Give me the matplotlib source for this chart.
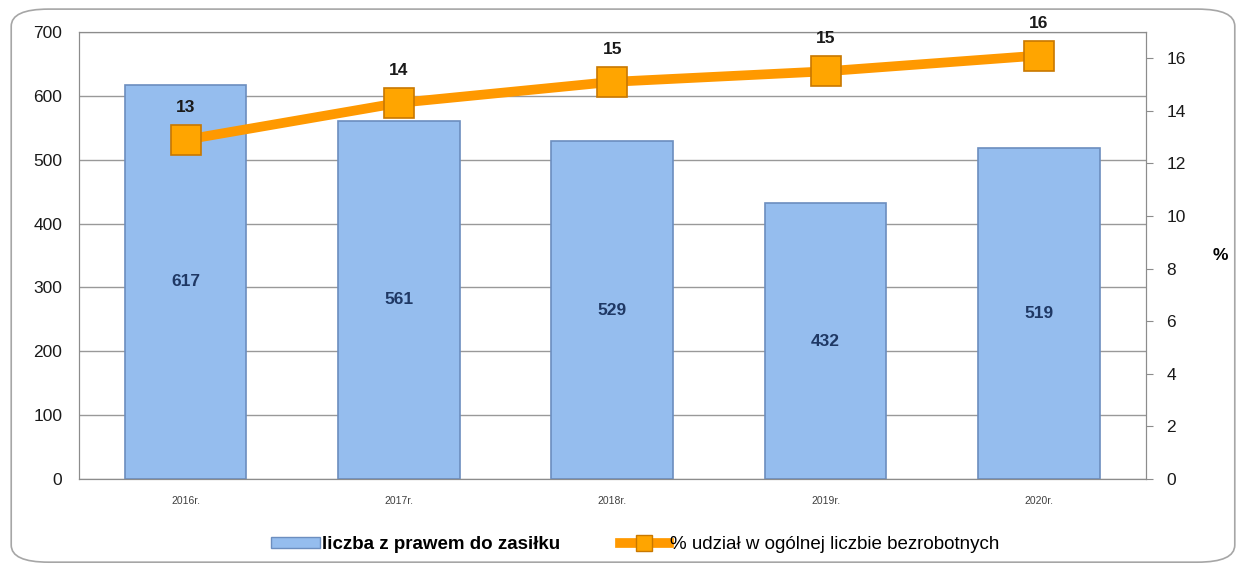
import matplotlib.pyplot as plt
from matplotlib.patches import FancyBboxPatch
from matplotlib.lines import Line2D
from matplotlib.patches import Patch

years = ['2016r.', '2017r.', '2018r.', '2019r.', '2020r.']
liczba = [617, 561, 529, 432, 519]
udzial = [12.9, 14.3, 15.1, 15.5, 16.1]
udzial_labels = ['13', '14', '15', '15', '16']

plt.rcParams['font.family'] = ['Liberation Sans', 'DejaVu Sans']

fig = plt.figure(figsize=(12.46, 5.69), dpi=100)
fig.patches.append(FancyBboxPatch((0.009, 0.012), 0.982, 0.972,
                                  boxstyle='round,pad=0,rounding_size=0.03',
                                  transform=fig.transFigure, fill=False,
                                  edgecolor='#A6A6A6', linewidth=1.2))

ax = fig.add_axes([0.0634, 0.158, 0.856, 0.786])
x = range(len(years))
ax.bar(x, liczba, width=0.57, color='#95BDEE', edgecolor='#6C8EBF', linewidth=1.2, zorder=2)
for i, v in zip(x, liczba):
    ax.text(i, v / 2, str(v), ha='center', va='center', fontsize=12.5,
            fontweight='bold', color='#1F3864', zorder=5)

ax.set_xlim(-0.5, 4.5)
ax.set_ylim(0, 700)
ax.set_yticks(range(0, 701, 100))
ax.set_xticks(list(x))
ax.set_xticklabels(years, fontsize=7.5, color='#404040')
ax.tick_params(axis='y', length=0, labelsize=12.5, pad=12, colors='#1a1a1a')
ax.tick_params(axis='x', length=0, pad=12)
ax.yaxis.grid(True, color='#999999', linewidth=1, zorder=0)
ax.set_axisbelow(True)
for s in ax.spines.values():
    s.set_color('#8C8C8C')

ax2 = ax.twinx()
ax2.plot(x, udzial, color='#FF9900', linewidth=7, marker='s', markersize=22,
         markerfacecolor='#FFA500', markeredgecolor='#C87800', markeredgewidth=1.2, zorder=4)
for i, v, t in zip(x, udzial, udzial_labels):
    ax2.text(i, v + 0.95, t, ha='center', va='bottom', fontsize=12.5,
             fontweight='bold', color='#1a1a1a')
ax2.set_ylim(0, 17)
ax2.set_yticks(range(0, 17, 2))
ax2.tick_params(axis='y', length=5, labelsize=12.5, pad=10, colors='#1a1a1a')
ax2.tick_params(axis='y', color='#8C8C8C')
for s in ax2.spines.values():
    s.set_color('#8C8C8C')
ax2.set_ylabel('%', rotation=0, fontsize=12.5, fontweight='bold', labelpad=25, va='center')

handles = [Patch(facecolor='#95BDEE', edgecolor='#6C8EBF'),
           Line2D([0], [0], color='#FF9900', linewidth=7, marker='s', markersize=11,
                  markerfacecolor='#FFA500', markeredgecolor='#C87800')]
leg = fig.legend(handles, ['liczba z prawem do zasiłku', '% udział w ogólnej liczbie bezrobotnych'],
                 loc='center', bbox_to_anchor=(0.51, 0.043), ncol=2, frameon=False,
                 fontsize=13.5, handlelength=2.6, handleheight=0.5, handletextpad=0.1,
                 columnspacing=3.2)
leg.get_texts()[0].set_fontweight('bold')

fig.savefig('out.png', dpi=100)
